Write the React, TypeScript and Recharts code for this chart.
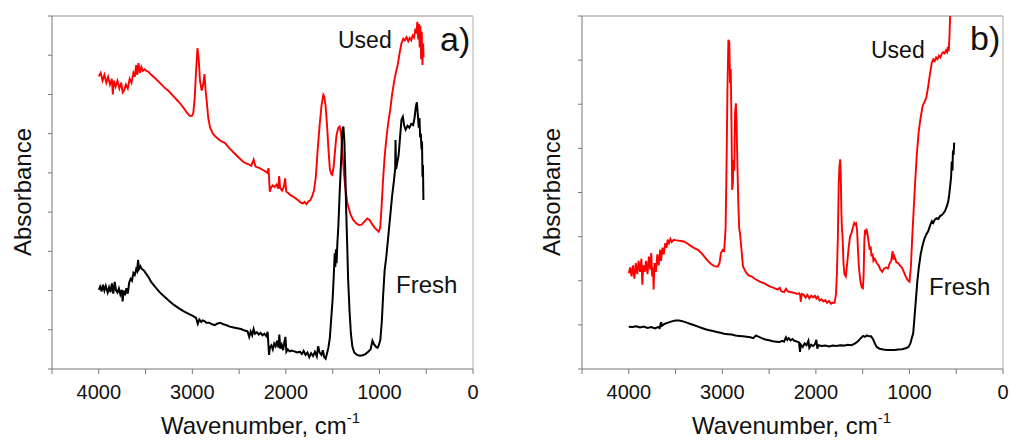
import React from "react";
import { LineChart, Line, XAxis, YAxis, ReferenceLine } from "recharts";

type Pt = [number, number];

const FONT = "'Liberation Sans', Arial, sans-serif";

// wavenumber ticks (labels only on the thousands)
const xTicks = [4500, 4000, 3500, 3000, 2500, 2000, 1500, 1000, 500, 0];
const yTicksA = [0, 1, 2, 3, 4, 5, 6, 7, 8, 9];
const yTicksB = [0, 1, 2, 3, 4, 5, 6, 7, 8];

// panel a) - used catalyst [wavenumber, absorbance a.u.]
const usedA: Pt[] = [
  [4000, 7.46], [3980, 7.55], [3960, 7.35], [3940, 7.5], [3920, 7.3], [3900, 7.45],
  [3880, 7.25], [3860, 7.4], [3850, 7.0], [3838, 7.35], [3820, 7.2], [3800, 7.35],
  [3780, 7.15], [3760, 7.3], [3745, 7.05], [3730, 7.1], [3710, 7.25], [3690, 7.15],
  [3670, 7.4], [3650, 7.3], [3630, 7.55], [3615, 7.45], [3600, 7.75], [3588, 7.5],
  [3575, 7.8], [3560, 7.55], [3545, 7.7], [3530, 7.6], [3510, 7.64], [3490, 7.6],
  [3470, 7.58], [3440, 7.5], [3400, 7.42], [3350, 7.3], [3300, 7.18], [3250, 7.08],
  [3200, 6.95], [3150, 6.82], [3100, 6.68], [3060, 6.54], [3030, 6.46], [3005, 6.45],
  [2990, 6.52], [2975, 6.9], [2960, 7.6], [2945, 8.18], [2932, 7.9], [2918, 7.35],
  [2900, 7.1], [2885, 7.24], [2870, 7.52], [2858, 7.1], [2845, 6.8], [2830, 6.4],
  [2810, 6.15], [2780, 6.0], [2750, 5.92], [2700, 5.82], [2650, 5.76], [2600, 5.62],
  [2550, 5.5], [2500, 5.38], [2450, 5.27], [2400, 5.22], [2370, 5.18], [2345, 5.34],
  [2325, 5.16], [2280, 5.12], [2250, 5.08], [2220, 5.04], [2200, 5.0], [2185, 5.12],
  [2172, 4.52], [2158, 4.62], [2140, 4.68], [2120, 4.64], [2100, 4.7], [2082, 4.6],
  [2072, 4.92], [2062, 4.62], [2040, 4.55], [2020, 4.66], [2008, 4.86], [1996, 4.52],
  [1980, 4.5], [1960, 4.45], [1940, 4.42], [1900, 4.36], [1870, 4.3], [1840, 4.24],
  [1820, 4.22], [1800, 4.26], [1780, 4.2], [1760, 4.27], [1740, 4.3], [1720, 4.4],
  [1700, 4.55], [1680, 4.9], [1660, 5.6], [1640, 6.2], [1620, 6.7], [1600, 6.99],
  [1590, 6.95], [1575, 6.7], [1560, 6.2], [1545, 5.6], [1530, 5.1], [1515, 4.97],
  [1505, 4.95], [1490, 5.15], [1475, 5.55], [1460, 5.95], [1440, 6.15], [1425, 6.18],
  [1410, 6.0], [1395, 5.5], [1380, 5.0], [1360, 4.5], [1340, 4.2], [1310, 3.95],
  [1280, 3.8], [1250, 3.72], [1220, 3.67], [1190, 3.68], [1160, 3.76], [1130, 3.84],
  [1105, 3.8], [1080, 3.7], [1050, 3.6], [1025, 3.54], [1008, 3.5], [992, 3.6],
  [978, 4.1], [962, 4.8], [945, 5.4], [925, 5.9], [905, 6.3], [885, 6.6],
  [865, 7.0], [845, 7.3], [825, 7.55], [805, 7.75], [785, 8.05], [765, 8.3],
  [745, 8.42], [728, 8.38], [710, 8.46], [692, 8.36], [676, 8.44], [660, 8.38],
  [645, 8.5], [630, 8.45], [615, 8.68], [605, 8.55], [595, 8.85], [586, 8.4],
  [578, 8.8], [570, 8.2], [562, 8.75], [555, 7.9], [548, 8.6], [540, 7.75],
  [533, 8.3], [528, 7.95],
];

// panel a) - fresh catalyst
const freshA: Pt[] = [
  [4000, 2.02], [3985, 2.1], [3970, 1.98], [3955, 2.15], [3940, 2.0], [3925, 2.12],
  [3905, 1.95], [3890, 2.08], [3875, 1.96], [3860, 2.18], [3845, 1.92], [3830, 2.22],
  [3815, 2.0], [3800, 1.95], [3785, 2.05], [3770, 1.9], [3755, 2.02], [3745, 1.72],
  [3735, 2.0], [3720, 1.88], [3705, 2.06], [3690, 1.92], [3675, 2.2], [3660, 2.3],
  [3645, 2.25], [3630, 2.45], [3615, 2.4], [3600, 2.55], [3590, 2.5], [3580, 2.78],
  [3570, 2.55], [3555, 2.62], [3540, 2.55], [3520, 2.52], [3500, 2.45], [3470, 2.35],
  [3440, 2.22], [3400, 2.1], [3350, 1.96], [3300, 1.85], [3250, 1.74], [3200, 1.64],
  [3150, 1.56], [3100, 1.48], [3050, 1.42], [3000, 1.36], [2960, 1.3], [2942, 1.15],
  [2925, 1.26], [2905, 1.2], [2890, 1.24], [2870, 1.22], [2850, 1.18], [2820, 1.18],
  [2790, 1.14], [2760, 1.12], [2730, 1.16], [2700, 1.18], [2670, 1.14], [2640, 1.12],
  [2600, 1.08], [2560, 1.06], [2520, 1.04], [2480, 1.02], [2440, 0.98], [2410, 0.96],
  [2392, 0.82], [2376, 0.96], [2360, 0.86], [2345, 1.02], [2330, 0.9], [2310, 0.94],
  [2290, 0.88], [2270, 0.92], [2250, 0.86], [2230, 0.9], [2210, 0.84], [2195, 0.95],
  [2180, 0.36], [2170, 0.55], [2155, 0.6], [2140, 0.5], [2125, 0.65], [2110, 0.58],
  [2095, 0.72], [2080, 0.55], [2070, 0.88], [2060, 0.52], [2045, 0.62], [2030, 0.48],
  [2015, 0.7], [2005, 0.82], [1995, 0.44], [1980, 0.5], [1960, 0.45], [1940, 0.47],
  [1910, 0.45], [1880, 0.42], [1850, 0.44], [1830, 0.38], [1810, 0.46], [1790, 0.36],
  [1770, 0.42], [1750, 0.3], [1730, 0.4], [1710, 0.33], [1690, 0.44], [1670, 0.32],
  [1655, 0.58], [1640, 0.42], [1620, 0.36], [1605, 0.48], [1590, 0.3], [1575, 0.26],
  [1560, 0.4], [1545, 0.55], [1530, 0.8], [1515, 1.3], [1500, 1.8], [1488, 2.4],
  [1478, 2.95], [1472, 2.6], [1465, 3.05], [1458, 2.7], [1450, 3.2], [1440, 3.6],
  [1425, 4.5], [1410, 5.3], [1395, 6.1], [1385, 6.18], [1375, 5.8], [1365, 5.0],
  [1355, 4.0], [1345, 3.2], [1335, 2.3], [1320, 1.5], [1305, 0.9], [1290, 0.58],
  [1270, 0.42], [1240, 0.36], [1210, 0.34], [1180, 0.35], [1150, 0.38], [1120, 0.44],
  [1095, 0.5], [1075, 0.72], [1060, 0.64], [1040, 0.57], [1020, 0.54], [1005, 0.62],
  [990, 0.75], [975, 1.2], [960, 1.9], [945, 2.5], [925, 2.9], [905, 3.4],
  [885, 3.9], [865, 4.4], [845, 4.8], [832, 5.1], [828, 5.84], [822, 5.1],
  [810, 5.25], [795, 5.45], [780, 5.9], [765, 6.35], [750, 6.43], [735, 6.2],
  [720, 6.1], [700, 6.2], [680, 6.15], [660, 6.25], [640, 6.22], [625, 6.4],
  [610, 6.7], [600, 6.8], [590, 6.5], [580, 6.15], [572, 6.4], [565, 5.9],
  [558, 6.0], [550, 5.6], [545, 5.8], [540, 4.9], [535, 5.2], [530, 4.31],
];

// panel b) - used catalyst
const usedB: Pt[] = [
  [4000, 2.17], [3985, 2.3], [3970, 2.1], [3955, 2.35], [3940, 2.05], [3925, 2.4],
  [3910, 2.15], [3895, 2.45], [3880, 2.2], [3865, 2.5], [3855, 1.91], [3845, 2.35],
  [3830, 2.2], [3815, 2.45], [3800, 2.15], [3785, 2.55], [3770, 2.25], [3760, 2.63],
  [3750, 2.1], [3740, 2.3], [3735, 1.8], [3725, 2.4], [3710, 2.2], [3695, 2.6],
  [3680, 2.35], [3665, 2.7], [3655, 2.45], [3640, 2.75], [3625, 2.6], [3610, 2.85],
  [3595, 2.75], [3585, 2.93], [3570, 2.85], [3555, 2.95], [3540, 2.88], [3520, 2.93],
  [3500, 2.92], [3470, 2.91], [3440, 2.9], [3410, 2.89], [3370, 2.84], [3330, 2.78],
  [3290, 2.73], [3260, 2.7], [3220, 2.62], [3190, 2.54], [3155, 2.45], [3120, 2.38],
  [3085, 2.33], [3050, 2.32], [3030, 2.4], [3015, 2.63], [2995, 2.7], [2980, 2.68],
  [2965, 3.2], [2955, 4.6], [2945, 6.4], [2935, 7.46], [2925, 7.4], [2918, 6.48],
  [2910, 6.8], [2902, 5.5], [2895, 4.06], [2888, 4.2], [2880, 4.74], [2872, 4.5],
  [2864, 5.8], [2855, 6.02], [2848, 5.6], [2840, 4.74], [2830, 3.8], [2820, 3.2],
  [2810, 3.05], [2795, 2.7], [2780, 2.33], [2750, 2.2], [2720, 2.12], [2690, 2.1],
  [2650, 2.04], [2600, 1.98], [2550, 1.94], [2500, 1.88], [2450, 1.84], [2410, 1.8],
  [2385, 1.84], [2370, 1.76], [2340, 1.74], [2320, 1.82], [2300, 1.76], [2260, 1.74],
  [2220, 1.72], [2200, 1.7], [2180, 1.72], [2168, 1.68], [2162, 1.52], [2150, 1.7],
  [2130, 1.68], [2110, 1.62], [2090, 1.68], [2070, 1.6], [2050, 1.66], [2030, 1.62],
  [2010, 1.66], [1995, 1.6], [1980, 1.64], [1960, 1.55], [1940, 1.58], [1920, 1.53],
  [1900, 1.56], [1880, 1.5], [1860, 1.54], [1840, 1.48], [1820, 1.5], [1800, 1.5],
  [1785, 1.7], [1775, 2.2], [1765, 3.0], [1756, 4.2], [1748, 4.6], [1740, 4.75],
  [1734, 4.4], [1728, 3.6], [1722, 3.2], [1715, 3.0], [1705, 2.4], [1695, 2.15],
  [1680, 2.1], [1665, 2.4], [1650, 2.75], [1635, 3.0], [1620, 3.08], [1605, 3.2],
  [1590, 3.31], [1580, 3.28], [1570, 3.3], [1560, 3.15], [1550, 2.7], [1540, 2.3],
  [1525, 2.0], [1510, 1.85], [1498, 1.83], [1490, 2.1], [1482, 2.9], [1475, 3.15],
  [1468, 3.05], [1460, 3.18], [1452, 3.1], [1444, 3.0], [1435, 2.85], [1425, 2.7],
  [1415, 2.78], [1405, 2.55], [1395, 2.62], [1385, 2.45], [1370, 2.5], [1350, 2.4],
  [1330, 2.35], [1310, 2.25], [1290, 2.2], [1270, 2.28], [1250, 2.3], [1230, 2.28],
  [1210, 2.4], [1195, 2.45], [1180, 2.67], [1170, 2.48], [1160, 2.55], [1140, 2.42],
  [1120, 2.4], [1100, 2.34], [1080, 2.3], [1060, 2.2], [1040, 2.1], [1020, 2.02],
  [1000, 1.98], [985, 2.3], [970, 3.0], [955, 3.6], [940, 4.2], [920, 4.9],
  [900, 5.4], [880, 5.7], [860, 5.95], [840, 6.05], [820, 6.15], [800, 6.4],
  [780, 6.7], [760, 6.95], [745, 7.02], [730, 6.98], [715, 7.06], [700, 7.02],
  [685, 7.1], [670, 7.06], [655, 7.14], [640, 7.18], [625, 7.15], [610, 7.22],
  [598, 7.18], [590, 7.3], [580, 7.2], [572, 7.55], [566, 7.95], [560, 8.3],
];

// panel b) - fresh catalyst
const freshB: Pt[] = [
  [4000, 0.96], [3960, 0.95], [3920, 0.97], [3880, 0.94], [3840, 0.96], [3800, 0.93],
  [3760, 0.95], [3720, 0.92], [3690, 0.95], [3670, 0.93], [3655, 1.06], [3645, 0.98],
  [3620, 1.02], [3580, 1.05], [3540, 1.08], [3500, 1.1], [3460, 1.1], [3420, 1.08],
  [3380, 1.05], [3340, 1.02], [3300, 0.99], [3260, 0.96], [3220, 0.93], [3180, 0.9],
  [3140, 0.88], [3100, 0.86], [3060, 0.84], [3020, 0.82], [2980, 0.8], [2940, 0.79],
  [2900, 0.78], [2860, 0.76], [2820, 0.75], [2780, 0.74], [2740, 0.73], [2700, 0.72],
  [2670, 0.7], [2640, 0.76], [2620, 0.74], [2580, 0.7], [2540, 0.67], [2500, 0.65],
  [2460, 0.63], [2420, 0.62], [2390, 0.61], [2360, 0.64], [2340, 0.62], [2320, 0.72],
  [2305, 0.66], [2290, 0.7], [2270, 0.65], [2250, 0.68], [2230, 0.64], [2200, 0.62],
  [2180, 0.6], [2170, 0.39], [2160, 0.55], [2140, 0.5], [2120, 0.58], [2100, 0.54],
  [2080, 0.64], [2070, 0.48], [2050, 0.55], [2030, 0.52], [2010, 0.56], [1995, 0.66],
  [1985, 0.46], [1970, 0.54], [1940, 0.52], [1900, 0.53], [1860, 0.51], [1820, 0.53],
  [1780, 0.52], [1740, 0.54], [1700, 0.53], [1660, 0.55], [1620, 0.54], [1580, 0.58],
  [1550, 0.63], [1520, 0.7], [1495, 0.75], [1475, 0.73], [1455, 0.76], [1430, 0.74],
  [1410, 0.74], [1390, 0.68], [1370, 0.58], [1350, 0.5], [1320, 0.46], [1280, 0.44],
  [1240, 0.43], [1200, 0.43], [1160, 0.43], [1120, 0.44], [1080, 0.45], [1040, 0.47],
  [1010, 0.5], [990, 0.58], [975, 0.7], [960, 0.81], [945, 1.2], [930, 1.6],
  [915, 2.0], [900, 2.3], [880, 2.6], [860, 2.8], [840, 2.95], [820, 3.05],
  [800, 3.12], [780, 3.25], [760, 3.35], [745, 3.31], [730, 3.38], [710, 3.42],
  [690, 3.4], [675, 3.46], [660, 3.48], [640, 3.52], [620, 3.58], [600, 3.69],
  [585, 3.8], [575, 3.95], [565, 4.14], [555, 4.35], [548, 4.7], [540, 4.5],
  [535, 4.95], [528, 4.85], [522, 5.13],
];

const rows = (pts: Pt[]) => pts.map(([w, a]) => ({ w, a }));

const fmtWn = (v: number) => (v % 1000 === 0 ? String(v) : "");

type PanelProps = {
  used: Pt[];
  fresh: Pt[];
  yTicks: number[];
  left: number;
  width: number;
  marginLeft: number;
  marginRight: number;
};

function Panel({ used, fresh, yTicks, left, width, marginLeft, marginRight }: PanelProps) {
  const yMax = yTicks[yTicks.length - 1];
  return (
    <div style={{ position: "absolute", left, top: 0 }}>
      <LineChart
        width={width}
        height={441}
        margin={{ top: 16, right: marginRight, left: marginLeft, bottom: 42 }}
      >
        <XAxis
          type="number"
          dataKey="w"
          domain={[0, 4500]}
          reversed
          allowDataOverflow
          ticks={xTicks}
          interval={0}
          tickFormatter={fmtWn}
          height={30}
          tickSize={5}
          tickMargin={11}
          stroke="#777"
          tick={{ fill: "#111", fontSize: 20, fontFamily: FONT }}
        />
        <YAxis
          type="number"
          domain={[0, yMax]}
          allowDataOverflow
          ticks={yTicks}
          interval={0}
          width={20}
          tickSize={4}
          tickFormatter={() => ""}
          stroke="#777"
        />
        <ReferenceLine y={yMax} stroke="#c8c8c8" strokeWidth={2} />
        <ReferenceLine x={0} stroke="#c8c8c8" strokeWidth={1.5} />
        <Line
          data={rows(used)}
          dataKey="a"
          type="linear"
          stroke="#ff0000"
          strokeWidth={1.9}
          dot={false}
          isAnimationActive={false}
        />
        <Line
          data={rows(fresh)}
          dataKey="a"
          type="linear"
          stroke="#000"
          strokeWidth={2}
          dot={false}
          isAnimationActive={false}
        />
      </LineChart>
    </div>
  );
}

function XLabel({ x }: { x: number }) {
  return (
    <text x={x} y={434} fontSize={24} fill="#111">
      Wavenumber, cm
      <tspan fontSize={15} dy={-11}>-1</tspan>
    </text>
  );
}

export default function App() {
  return (
    <div style={{ position: "absolute", left: 0, top: 0, width: 1011, height: 441, background: "#fff", overflow: "hidden" }}>
      <Panel used={usedA} fresh={freshA} yTicks={yTicksA} left={0} width={505} marginLeft={32} marginRight={32} />
      <Panel used={usedB} fresh={freshB} yTicks={yTicksB} left={505} width={506} marginLeft={57} marginRight={8} />
      <svg
        width={1011}
        height={441}
        style={{ position: "absolute", left: 0, top: 0, pointerEvents: "none" }}
        fontFamily={FONT}
      >
        <text x={31} y={192} fontSize={24} fill="#111" textAnchor="middle" transform="rotate(-90 31 192)">
          Absorbance
        </text>
        <text x={560} y={192} fontSize={24} fill="#111" textAnchor="middle" transform="rotate(-90 560 192)">
          Absorbance
        </text>
        <XLabel x={161} />
        <XLabel x={692} />
        <text x={338} y={48} fontSize={23} fill="#111">Used</text>
        <text x={440} y={51} fontSize={34} fill="#111">a)</text>
        <text x={396} y={293} fontSize={24} fill="#111">Fresh</text>
        <text x={871} y={58} fontSize={23} fill="#111">Used</text>
        <text x={970} y={50} fontSize={34} fill="#111">b)</text>
        <text x={929} y={295} fontSize={24} fill="#111">Fresh</text>
      </svg>
    </div>
  );
}
